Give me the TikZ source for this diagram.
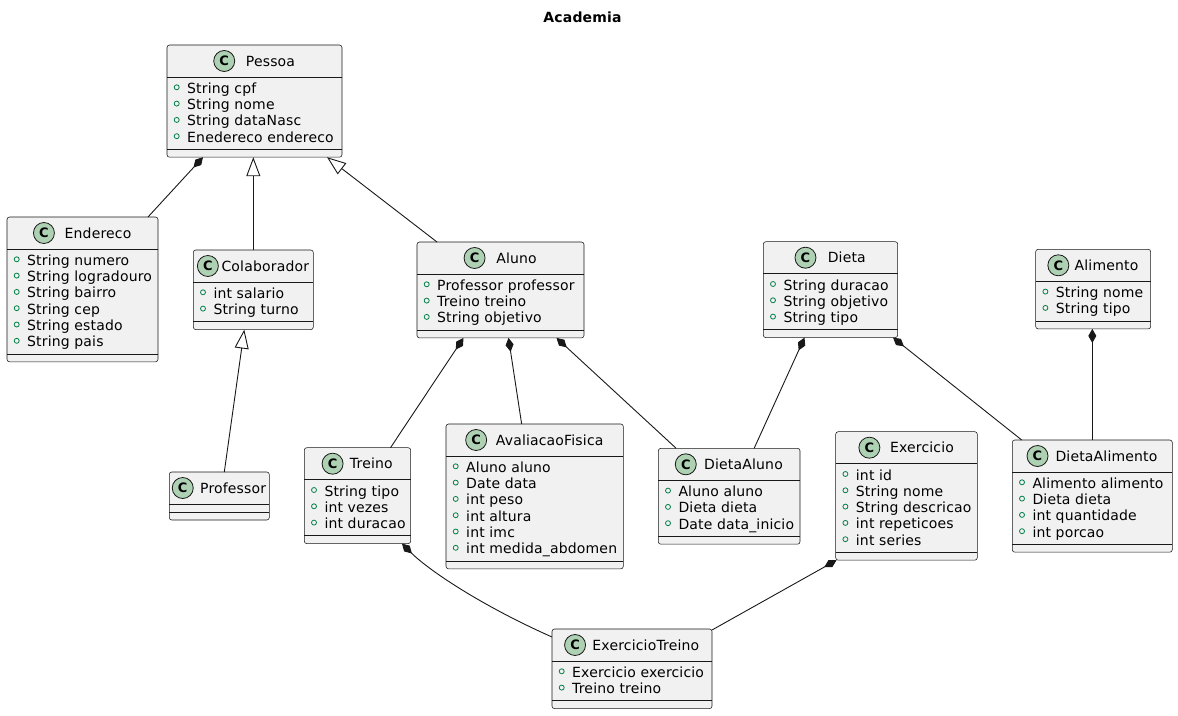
\documentclass[tikz,border=0pt]{standalone}
\usepackage{fontspec}
\setmainfont{DejaVu Sans}[LetterSpace=1.2]
\usetikzlibrary{arrows.meta,calc}

\definecolor{boxfill}{HTML}{F1F1F1}
\definecolor{ink}{HTML}{181818}
\definecolor{iconfill}{HTML}{ADD1B2}
\definecolor{visgreen}{HTML}{038048}

\tikzset{
  classbox/.style={draw=ink, fill=boxfill, rounded corners=2.5pt, line width=0.55pt,
    inner sep=0pt, outer sep=0pt},
  sepline/.style={draw=ink, line width=0.55pt},
  titletext/.style={inner sep=0pt, font=\fontsize{14}{16}\selectfont},
  fieldtext/.style={inner sep=0pt, font=\fontsize{14}{16}\selectfont},
  cicon/.style={circle, draw=ink, fill=iconfill, line width=0.8pt, minimum size=21pt,
    inner sep=0pt, font=\fontsize{13}{13}\selectfont\bfseries},
  vismark/.style={draw=visgreen, line width=0.8pt},
  link/.style={draw=ink, line width=0.9pt},
  comp/.style={link, {Diamond[length=14pt,width=8pt,fill=ink]}-},
  inherit/.style={link, {Triangle[length=19pt,width=14pt,fill=white]}-},
}

% #1 name, #2 left, #3 top, #4 width, #5 number of fields,
% #6 gap between icon and title, #7 title, #8 fields
\newcommand\umlclass[8]{%
  \pgfmathsetmacro\boxh{#5==0 ? 48 : 47+16.3*#5}%
  \node[classbox, minimum width=#4, minimum height=\boxh, anchor=north west] (#1) at (#2,#3) {};
  \draw[sepline] ([yshift=-32]#1.north west) -- ([yshift=-32]#1.north east);
  \draw[sepline] ([yshift=8]#1.south west) -- ([yshift=8]#1.south east);
  \node[titletext, anchor=base] (#1-t) at ([xshift={(21+#6)/2}, yshift=-21]#1.north) {#7};
  \node[cicon] (#1-c) at ([xshift={-#6-10.5}, yshift=5]#1-t.base west) {C};
  \ifnum#5>0
    \foreach \f [count=\i] in {#8} {
      \node[fieldtext, anchor=base west] at ([xshift=20, yshift={-32-16.3*\i}]#1.north west) {\f};
      \draw[vismark] ([xshift=9.7, yshift={-32-16.3*\i+6}]#1.north west) circle (2.5);
    }
  \fi
}

\begin{document}
\begin{tikzpicture}[x=1pt, y=-1pt]
  \useasboundingbox (0,0) rectangle (1178,715);

  \node[font=\fontsize{14}{16}\selectfont\bfseries, anchor=base] (title) at (582.5,22.5) {Academia};

  \umlclass{pessoa}{167}{45}{175}{4}{11}{Pessoa}{String cpf,String nome,String dataNasc,Enedereco endereco}
  \umlclass{endereco}{7}{217}{151}{6}{10}{Endereco}{String numero,String logradouro,String bairro,String cep,String estado,String pais}
  \umlclass{colaborador}{193.3}{250}{120}{2}{3}{Colaborador}{int salario,String turno}
  \umlclass{aluno}{417}{242}{167}{3}{11}{Aluno}{Professor professor,Treino treino,String objetivo}
  \umlclass{dieta}{763.3}{241.7}{134.4}{3}{11.6}{Dieta}{String duracao,String objetivo,String tipo}
  \umlclass{alimento}{1035.7}{249.3}{115}{2}{5.6}{Alimento}{String nome,String tipo}
  \umlclass{professor}{169.3}{472}{100}{0}{6.7}{Professor}{}
  \umlclass{treino}{304.3}{447.7}{106.4}{3}{6.7}{Treino}{String tipo,int vezes,int duracao}
  \umlclass{avaliacaofisica}{446}{424}{177.3}{6}{9}{AvaliacaoFisica}{Aluno aluno,Date data,int peso,int altura,int imc,int medida\_abdomen}
  \umlclass{dietaaluno}{658.3}{448.3}{141.7}{3}{7.7}{DietaAluno}{Aluno aluno,Dieta dieta,Date data\_inicio}
  \umlclass{exercicio}{835.7}{431.7}{141.6}{5}{10}{Exercicio}{int id,String nome,String descricao,int repeticoes,int series}
  \umlclass{dietaalimento}{1012.3}{440}{160}{4}{7.3}{DietaAlimento}{Alimento alimento,Dieta dieta,int quantidade,int porcao}
  \umlclass{exerciciotreino}{552}{629}{160}{2}{6.7}{ExercicioTreino}{Exercicio exercicio,Treino treino}

  % composition and inheritance links
  \draw[comp] ([xshift=-51.5]pessoa.south) -- ([xshift=65.5]endereco.north);
  \draw[inherit] (colaborador.north |- pessoa.south) -- (colaborador.north);
  \draw[inherit] ([xshift=72.5]pessoa.south) -- ([xshift=-63.5]aluno.north);
  \draw[inherit] ([xshift=-9]colaborador.south) -- ([xshift=5]professor.north);
  \draw[comp] ([xshift=-37]aluno.south) -- ([xshift=33]treino.north);
  \draw[comp] ([xshift=8]aluno.south) -- ([xshift=-13]avaliacaofisica.north);
  \draw[comp] ([xshift=56]aluno.south) -- ([xshift=-53]dietaaluno.north);
  \draw[comp] ([xshift=-26]dieta.south) -- ([xshift=25]dietaaluno.north);
  \draw[comp] ([xshift=62.5]dieta.south) -- ([xshift=-70.6]dietaalimento.north);
  \draw[comp] (dietaalimento.north |- alimento.south) -- (dietaalimento.north);
  \draw[comp] ([xshift=44.5]treino.south) .. controls +(26,26) and +(-72,-32) .. ([yshift=-8]exerciciotreino.north west);
  \draw[comp] ([xshift=-70]exercicio.south) -- ([yshift=-1]exerciciotreino.north east);
\end{tikzpicture}
\end{document}
